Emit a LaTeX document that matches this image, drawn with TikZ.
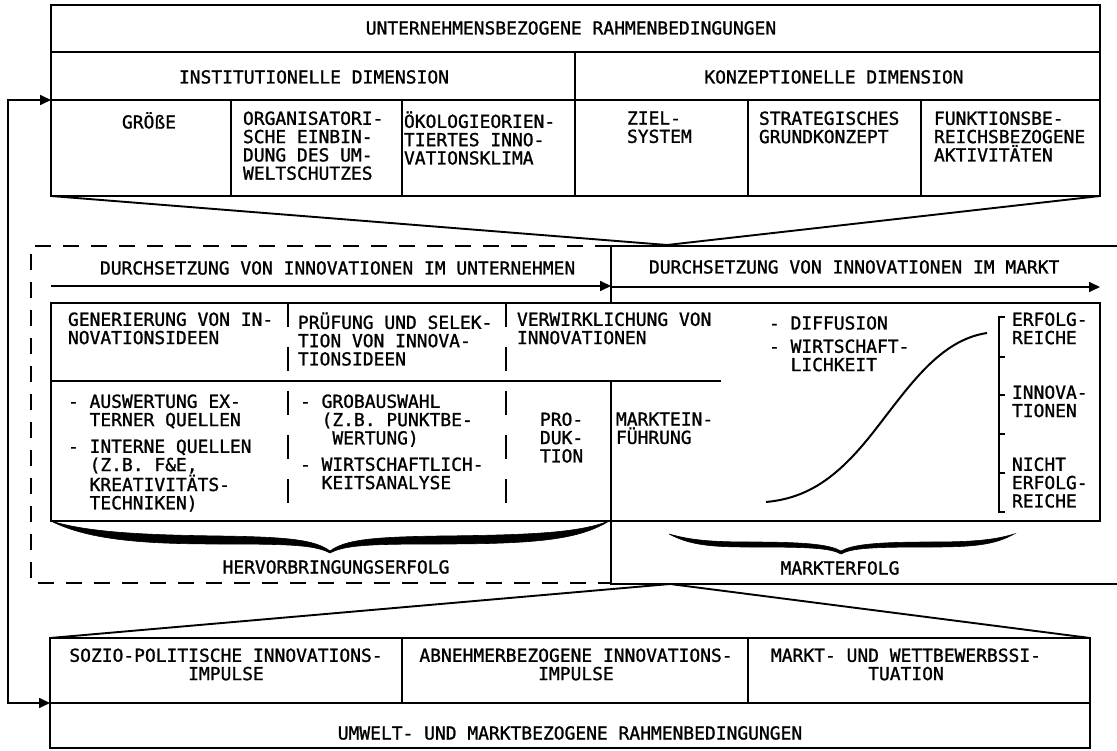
\documentclass[tikz,border=0pt]{standalone}
\usepackage{fontspec}
\newfontfamily\dmono[FakeBold=1.2]{DejaVu Sans Mono}
\usetikzlibrary{arrows.meta}
\newcommand\fls{\rule{0pt}{17pt}}
\tikzset{
  txt/.style={font=\dmono\fontsize{17.94}{18.3}\selectfont, inner sep=0pt, outer sep=0pt, execute at begin node=\fls},
  tl/.style={txt, anchor=north west, align=left},
  tc/.style={txt, anchor=north, align=center},
  frame/.style={line width=1.9pt},
  mframe/.style={line width=2.7pt},
  dashbox/.style={line width=1.8pt, dash pattern=on 16pt off 12pt},
  loose/.style={line width=1.7pt, dash pattern=on 24pt off 20pt},
  arr/.style={line width=1.7pt, -{Triangle[length=11pt,width=10pt]}},
  fb/.style={line width=1.7pt, {Triangle[length=11pt,width=10pt]}-{Triangle[length=11pt,width=10pt]}},
  brace/.style={fill=black, draw=black, line width=0.6pt},
}
\begin{document}
\begin{tikzpicture}[x=1pt,y=-1pt]
\useasboundingbox (0,0) rectangle (1117,751);

% ---------- top box ----------
\coordinate (T-nw) at (51,5);
\coordinate (T-sw) at (51,196);
\coordinate (T-se) at (1100,196);
\coordinate (fbT) at (51,100);
\draw[frame] (T-nw) rectangle (T-se);
\draw[frame] (51,52) -- (1100,52);
\draw[frame] (51,100) -- (1100,100);
\draw[frame] (575,52) -- (575,196);
\foreach \x in {231,402,748,921} \draw[frame] (\x,100) -- (\x,196);

\node[tc] (t1) at (571,17.5) {UNTERNEHMENSBEZOGENE RAHMENBEDINGUNGEN};
\node[tc] (t2) at (314,66.5) {INSTITUTIONELLE DIMENSION};
\node[tc] (t3) at (834,66.5) {KONZEPTIONELLE DIMENSION};
\node[tl] (c1) at (122,111.5) {GRÖßE};
\node[tl] (c2) at (243,111.5) {ORGANISATORI-\\SCHE EINBIN-\\DUNG DES UM-\\WELTSCHUTZES};
\node[tl] (c3) at (404,111.5) {ÖKOLOGIEORIEN-\\TIERTES INNO-\\VATIONSKLIMA};
\node[tl] (c4) at (627,111.5) {ZIEL-\\SYSTEM};
\node[tl] (c5) at (759,111.5) {STRATEGISCHES\\GRUNDKONZEPT};
\node[tl] (c6) at (934,111.5) {FUNKTIONSBE-\\REICHSBEZOGENE\\AKTIVITÄTEN};

% ---------- funnel top ----------
\coordinate (apex1) at (667,245);
\draw[frame] (T-sw) -- (apex1) -- (T-se);

% ---------- dashed company box ----------
\coordinate (D-ne) at (611,246);
\coordinate (D-se) at (611,583);
\draw[dashbox] (D-ne) -- (31,246) -- (31,583) -- (D-se);

% ---------- market box ----------
\draw[mframe] (1120,246) -- (611,246) -- (611,303);
\draw[mframe] (611,381) -- (611,584) -- (1120,584);

\node[tl] (d1) at (100,257.5) {DURCHSETZUNG VON INNOVATIONEN IM UNTERNEHMEN};
\node[tl] (d2) at (649,256.5) {DURCHSETZUNG VON INNOVATIONEN IM MARKT};
\coordinate (a1s) at (51,286);
\coordinate (a1e) at (611,286);
\coordinate (a2s) at (611,287);
\coordinate (a2e) at (1100,287);
\draw[arr] (a1s) -- (a1e);
\draw[arr] (a2s) -- (a2e);

% ---------- inner box ----------
\draw[frame] (51,303) -- (1100,303) -- (1100,521) -- (51,521) -- cycle;
\draw[frame] (51,381) -- (721,381);
\draw[loose] (288,303) -- (288,521);
\draw[loose] (506,303) -- (506,521);

\node[tl] (g1) at (68,312.5) {GENERIERUNG VON IN-\\NOVATIONSIDEEN};
\node[tl] (g2) at (298,312.5) {PRÜFUNG UND SELEK-\\TION VON INNOVA-\\TIONSIDEEN};
\node[tl] (g3) at (517,312.5) {VERWIRKLICHUNG VON\\INNOVATIONEN};
\node[tl] (m1) at (769,312.5) {- DIFFUSION};
\node[tl] (m2) at (769,339.5) {- WIRTSCHAFT-\\\hphantom{- }LICHKEIT};

\node[tl] (l1) at (68,394.5) {- AUSWERTUNG EX-\\\hphantom{- }TERNER QUELLEN};
\node[tl] (l2) at (68,439.5) {- INTERNE QUELLEN\\\hphantom{- }(Z.B. F\&E,\\\hphantom{- }KREATIVITÄTS-\\\hphantom{- }TECHNIKEN)};
\node[tl] (p1) at (300,394.5) {- GROBAUSWAHL\\\hphantom{- }(Z.B. PUNKTBE-\\\hphantom{- (}WERTUNG)};
\node[tl] (p2) at (300,457.5) {- WIRTSCHAFTLICH-\\\hphantom{- }KEITSANALYSE};
\node[tl] (pr) at (540,412.5) {PRO-\\DUK-\\TION};
\node[tl] (mk) at (616,412.5) {MARKTEIN-\\FÜHRUNG};

% S-curve
\draw[line width=2pt] (766,502) .. controls (810,498) and (840,475) .. (875,430)
      .. controls (910,385) and (940,340) .. (987,333);

% bracket
\draw[line width=1.6pt] (1005,317) -- (999,317) -- (999,512) -- (1005,512);
\foreach \y in {357,395,434,473} \draw[line width=1.6pt] (999,\y) -- (1005,\y);
\node[tl] (r1) at (1012,312.5) {ERFOLG-\\REICHE};
\node[tl] (r2) at (1012,385.5) {INNOVA-\\TIONEN};
\node[tl] (r3) at (1012,457.5) {NICHT\\ERFOLG-\\REICHE};

% braces
\draw[brace] (51,521) .. controls (90,533) and (150,535) .. (220,536)
   .. controls (290,537) and (315,540) .. (330,551)
   .. controls (345,540) and (370,537) .. (440,536)
   .. controls (540,535) and (580,532) .. (609,521)
   .. controls (580,539) and (540,544) .. (440,544)
   .. controls (370,544) and (345,545) .. (330,553)
   .. controls (315,545) and (290,544) .. (220,544)
   .. controls (150,544) and (90,541) .. (51,521) -- cycle;
\draw[brace] (669,534) .. controls (690,540) and (710,542) .. (750,542)
   .. controls (810,542) and (830,545) .. (841,551)
   .. controls (852,545) and (872,542) .. (932,542)
   .. controls (972,542) and (995,540) .. (1014,534)
   .. controls (995,545) and (972,547) .. (932,547)
   .. controls (872,547) and (852,548) .. (841,554)
   .. controls (830,548) and (810,547) .. (750,547)
   .. controls (710,547) and (690,545) .. (669,534) -- cycle;
\node[tc] (hv) at (336,556.5) {HERVORBRINGUNGSERFOLG};
\node[tc] (me) at (840,557.5) {MARKTERFOLG};

% ---------- bottom box ----------
\coordinate (B-nw) at (50,638);
\coordinate (B-ne) at (1090,638);
\coordinate (B-se) at (1090,748);
\coordinate (fbB) at (50,703);
\coordinate (apex2) at (670,584);
\draw[frame] (B-nw) -- (apex2) -- (B-ne);
\draw[frame] (B-nw) rectangle (B-se);
\draw[frame] (50,703) -- (1090,703);
\draw[frame] (402,638) -- (402,703);
\draw[frame] (748,638) -- (748,703);
\node[tc] (b1) at (226,648.5) {SOZIO-POLITISCHE INNOVATIONS-\\IMPULSE};
\node[tc] (b2) at (576,648.5) {ABNEHMERBEZOGENE INNOVATIONS-\\IMPULSE};
\node[tc] (b3) at (906,648.5) {MARKT- UND WETTBEWERBSSI-\\TUATION};
\node[tc] (b4) at (570,722.5) {UMWELT- UND MARKTBEZOGENE RAHMENBEDINGUNGEN};

% ---------- feedback loop ----------
\draw[fb] (fbT) -- ++(-43,0) |- (fbB);
\end{tikzpicture}
\end{document}
